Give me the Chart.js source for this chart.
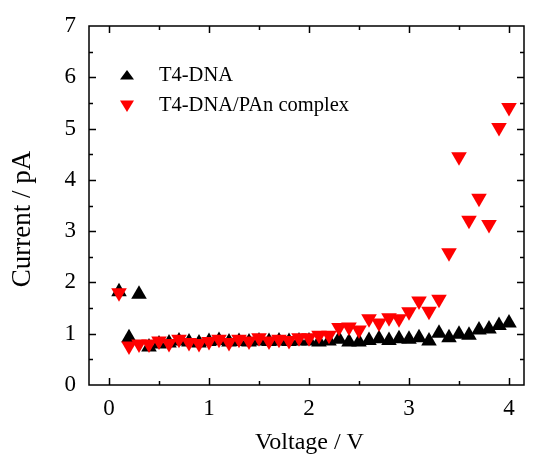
<!DOCTYPE html>
<html>
<head>
<meta charset="utf-8">
<script src="https://cdn.jsdelivr.net/npm/chart.js@4/dist/chart.umd.min.js"></script>
<style>
  html, body { margin: 0; padding: 0; background: #fff; }
  #wrap { width: 533px; height: 455px; }
</style>
</head>
<body>
<div id="wrap"><canvas id="iv"></canvas></div>
<script>
// bias voltage, 0.1 V steps
const voltage = [0.1,0.2,0.3,0.4,0.5,0.6,0.7,0.8,0.9,1.0,
                 1.1,1.2,1.3,1.4,1.5,1.6,1.7,1.8,1.9,2.0,
                 2.1,2.2,2.3,2.4,2.5,2.6,2.7,2.8,2.9,3.0,
                 3.1,3.2,3.3,3.4,3.5,3.6,3.7,3.8,3.9,4.0];

// current (pA), bare T4-DNA
const dnaCurrent = [1.82,0.92,1.77,0.74,0.80,0.82,0.86,0.84,0.82,0.85,
                    0.87,0.84,0.85,0.84,0.86,0.85,0.86,0.85,0.86,0.86,
                    0.84,0.86,0.89,0.84,0.84,0.87,0.90,0.87,0.90,0.89,
                    0.92,0.86,1.01,0.92,0.99,0.97,1.07,1.09,1.16,1.21];

// current (pA), T4-DNA/PAn complex
const complexCurrent = [1.80,0.76,0.80,0.80,0.86,0.81,0.89,0.83,0.81,0.85,
                        0.89,0.83,0.89,0.86,0.92,0.86,0.89,0.87,0.92,0.92,
                        0.97,0.97,1.12,1.13,1.07,1.29,1.21,1.31,1.29,1.43,
                        1.64,1.44,1.67,2.58,4.45,3.21,3.64,3.13,5.02,5.41];

const seriesNames = ['T4-DNA', 'T4-DNA/PAn complex'];
const xTicks = [0, 1, 2, 3, 4];
const yTicks = [0, 1, 2, 3, 4, 5, 6, 7];

const serif = '"Liberation Serif", "DejaVu Serif", serif';

function pts(ys) {
  return voltage.map((v, i) => ({ x: v, y: ys[i] }));
}

// frame with inward ticks on all four sides, minor ticks halfway
const framePlugin = {
  id: 'frame',
  beforeDatasetsDraw(chart) {
    const { ctx, chartArea: a, scales: { x, y } } = chart;
    ctx.save();
    ctx.strokeStyle = '#000';
    ctx.lineWidth = 1.5;
    ctx.strokeRect(a.left, a.top, a.right - a.left, a.bottom - a.top);
    ctx.beginPath();
    for (let v = 0; v <= 4.001; v += 0.5) {
      const px = Math.round(x.getPixelForValue(v)) + 0.5;
      const len = Math.abs(v % 1) < 0.01 ? 7 : 4;
      ctx.moveTo(px, a.bottom); ctx.lineTo(px, a.bottom - len);
      ctx.moveTo(px, a.top); ctx.lineTo(px, a.top + len);
    }
    for (let v = 0.5; v < 7; v += 0.5) {
      const py = Math.round(y.getPixelForValue(v)) + 0.5;
      const len = Math.abs(v % 1) < 0.01 ? 7 : 4;
      ctx.moveTo(a.left, py); ctx.lineTo(a.left + len, py);
      ctx.moveTo(a.right, py); ctx.lineTo(a.right - len, py);
    }
    ctx.stroke();
    ctx.restore();
  },
  afterDraw(chart) {
    const { ctx, chartArea: a } = chart;
    ctx.save();
    ctx.fillStyle = '#000';
    ctx.font = '24px ' + serif;
    ctx.textAlign = 'center';
    ctx.textBaseline = 'middle';
    ctx.fillText('Voltage / V', (a.left + a.right) / 2 + 3, 443);
    ctx.translate(23, 219);
    ctx.rotate(-Math.PI / 2);
    ctx.font = '27px ' + serif;
    ctx.fillText('Current / pA', 0, 0);
    ctx.restore();

    // legend inside the plot
    ctx.save();
    ctx.font = '20.5px ' + serif;
    ctx.textBaseline = 'middle';
    chart.data.datasets.forEach((ds, i) => {
      const ly = 75 + i * 30;
      ctx.fillStyle = ds.backgroundColor;
      ctx.beginPath();
      if (ds.rotation === 180) {
        ctx.moveTo(120, ly - 4.5); ctx.lineTo(134, ly - 4.5); ctx.lineTo(127, ly + 7);
      } else {
        ctx.moveTo(120, ly + 4.5); ctx.lineTo(134, ly + 4.5); ctx.lineTo(127, ly - 5);
      }
      ctx.closePath();
      ctx.fill();
      ctx.fillStyle = '#000';
      ctx.fillText(ds.label, 159, ly + 1);
    });
    ctx.restore();
  }
};

new Chart(document.getElementById('iv'), {
  type: 'scatter',
  data: {
    datasets: [
      {
        label: seriesNames[0],
        data: pts(dnaCurrent),
        pointStyle: 'triangle',
        rotation: 0,
        pointRadius: 9,
        borderWidth: 0,
        backgroundColor: '#000000',
        borderColor: '#000000',
        order: 1
      },
      {
        label: seriesNames[1],
        data: pts(complexCurrent),
        pointStyle: 'triangle',
        rotation: 180,
        pointRadius: 9,
        borderWidth: 0,
        backgroundColor: '#ff0000',
        borderColor: '#ff0000',
        order: 0
      }
    ]
  },
  options: {
    responsive: true,
    maintainAspectRatio: false,
    animation: false,
    layout: { padding: { top: 26, right: 6, left: 0, bottom: 0 } },
    plugins: { legend: { display: false }, tooltip: { enabled: false } },
    scales: {
      x: {
        type: 'linear',
        min: -0.2,
        max: 4.15,
        afterBuildTicks: s => { s.ticks = xTicks.map(v => ({ value: v })); },
        afterFit: s => { s.height = 70; },
        grid: { display: false },
        border: { display: false },
        ticks: { color: '#000', padding: 2, font: { family: serif, size: 23 } }
      },
      y: {
        min: 0,
        max: 7,
        afterBuildTicks: s => { s.ticks = yTicks.map(v => ({ value: v })); },
        afterFit: s => { s.width = 89; },
        grid: { display: false },
        border: { display: false },
        ticks: { color: '#000', padding: 5, font: { family: serif, size: 23 } }
      }
    }
  },
  plugins: [framePlugin]
});
</script>
</body>
</html>
